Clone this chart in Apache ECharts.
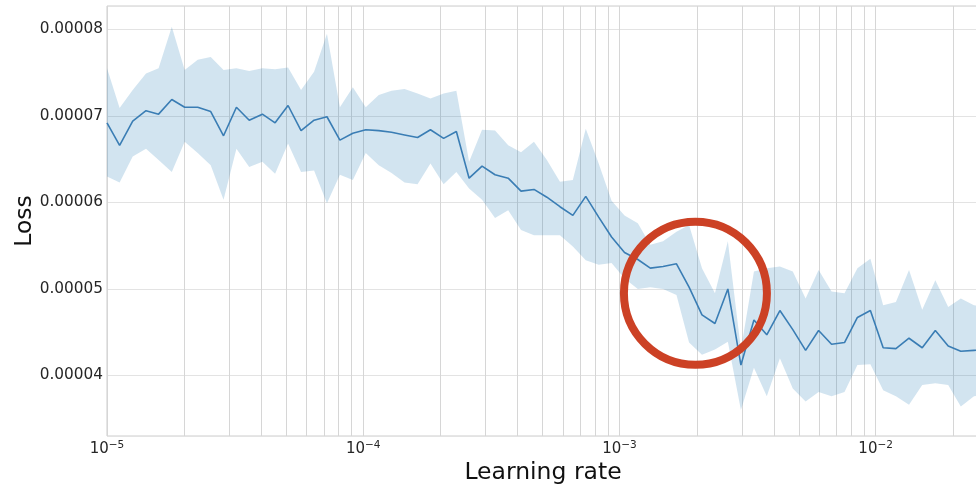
<!DOCTYPE html>
<html>
<head>
<meta charset="utf-8">
<script src="https://cdn.jsdelivr.net/npm/echarts@6/dist/echarts.min.js"></script>
<style>
html,body{margin:0;padding:0;background:#fff;}
#chart{width:976px;height:485px;}
</style>
</head>
<body>
<div id="chart"></div>
<script>
// Learning rates (geometric sweep), one per sample
var learningRates = [
  1.00e-5, 1.12e-5, 1.26e-5, 1.42e-5, 1.59e-5, 1.79e-5, 2.01e-5, 2.26e-5, 2.54e-5, 2.85e-5,
  3.20e-5, 3.59e-5, 4.04e-5, 4.53e-5, 5.09e-5, 5.72e-5, 6.43e-5, 7.22e-5, 8.11e-5, 9.11e-5,
  1.023e-4, 1.15e-4, 1.29e-4, 1.45e-4, 1.63e-4, 1.83e-4, 2.06e-4, 2.31e-4, 2.59e-4, 2.91e-4,
  3.27e-4, 3.68e-4, 4.13e-4, 4.64e-4, 5.21e-4, 5.86e-4, 6.58e-4, 7.39e-4, 8.30e-4, 9.32e-4,
  1.047e-3, 1.18e-3, 1.32e-3, 1.48e-3, 1.67e-3, 1.87e-3, 2.10e-3, 2.36e-3, 2.65e-3, 2.98e-3,
  3.35e-3, 3.76e-3, 4.23e-3, 4.75e-3, 5.33e-3, 5.99e-3, 6.73e-3, 7.56e-3, 8.49e-3, 9.54e-3,
  1.07e-2, 1.20e-2, 1.35e-2, 1.52e-2, 1.71e-2, 1.92e-2, 2.15e-2, 2.42e-2, 2.72e-2
];
// Mean loss
var lossMean = [
  6.92e-5, 6.66e-5, 6.94e-5, 7.06e-5, 7.02e-5, 7.19e-5, 7.10e-5, 7.10e-5, 7.05e-5, 6.77e-5,
  7.10e-5, 6.95e-5, 7.02e-5, 6.92e-5, 7.12e-5, 6.83e-5, 6.95e-5, 6.99e-5, 6.72e-5, 6.80e-5,
  6.84e-5, 6.83e-5, 6.81e-5, 6.78e-5, 6.75e-5, 6.84e-5, 6.74e-5, 6.82e-5, 6.28e-5, 6.42e-5,
  6.32e-5, 6.28e-5, 6.13e-5, 6.15e-5, 6.06e-5, 5.95e-5, 5.85e-5, 6.07e-5, 5.83e-5, 5.60e-5,
  5.42e-5, 5.34e-5, 5.24e-5, 5.26e-5, 5.29e-5, 5.02e-5, 4.70e-5, 4.60e-5, 5.00e-5, 4.12e-5,
  4.64e-5, 4.47e-5, 4.75e-5, 4.53e-5, 4.29e-5, 4.52e-5, 4.36e-5, 4.38e-5, 4.67e-5, 4.75e-5,
  4.32e-5, 4.31e-5, 4.43e-5, 4.32e-5, 4.52e-5, 4.34e-5, 4.28e-5, 4.29e-5, 4.30e-5
];
// Upper edge of the spread band
var lossUpper = [
  7.55e-5, 7.09e-5, 7.30e-5, 7.49e-5, 7.55e-5, 8.03e-5, 7.53e-5, 7.65e-5, 7.68e-5, 7.53e-5,
  7.55e-5, 7.52e-5, 7.55e-5, 7.54e-5, 7.56e-5, 7.30e-5, 7.51e-5, 7.95e-5, 7.10e-5, 7.33e-5,
  7.10e-5, 7.24e-5, 7.29e-5, 7.31e-5, 7.26e-5, 7.20e-5, 7.26e-5, 7.29e-5, 6.47e-5, 6.84e-5,
  6.83e-5, 6.66e-5, 6.58e-5, 6.70e-5, 6.49e-5, 6.24e-5, 6.26e-5, 6.85e-5, 6.45e-5, 6.02e-5,
  5.85e-5, 5.76e-5, 5.51e-5, 5.55e-5, 5.66e-5, 5.74e-5, 5.24e-5, 4.95e-5, 5.55e-5, 4.30e-5,
  5.20e-5, 5.24e-5, 5.26e-5, 5.20e-5, 4.89e-5, 5.22e-5, 4.97e-5, 4.95e-5, 5.24e-5, 5.35e-5,
  4.81e-5, 4.85e-5, 5.22e-5, 4.76e-5, 5.10e-5, 4.79e-5, 4.89e-5, 4.81e-5, 4.80e-5
];
// Lower edge of the spread band
var lossLower = [
  6.30e-5, 6.23e-5, 6.53e-5, 6.62e-5, 6.49e-5, 6.35e-5, 6.70e-5, 6.57e-5, 6.43e-5, 6.03e-5,
  6.62e-5, 6.41e-5, 6.47e-5, 6.33e-5, 6.68e-5, 6.35e-5, 6.37e-5, 5.99e-5, 6.32e-5, 6.26e-5,
  6.57e-5, 6.43e-5, 6.34e-5, 6.23e-5, 6.21e-5, 6.45e-5, 6.21e-5, 6.35e-5, 6.16e-5, 6.03e-5,
  5.82e-5, 5.91e-5, 5.68e-5, 5.62e-5, 5.62e-5, 5.62e-5, 5.49e-5, 5.33e-5, 5.28e-5, 5.30e-5,
  5.12e-5, 5.00e-5, 5.02e-5, 5.00e-5, 4.93e-5, 4.38e-5, 4.24e-5, 4.30e-5, 4.39e-5, 3.60e-5,
  4.09e-5, 3.76e-5, 4.20e-5, 3.85e-5, 3.70e-5, 3.81e-5, 3.76e-5, 3.81e-5, 4.12e-5, 4.13e-5,
  3.83e-5, 3.76e-5, 3.66e-5, 3.89e-5, 3.91e-5, 3.89e-5, 3.64e-5, 3.76e-5, 3.77e-5
];
// Minor gridline positions on the log axis
var minorGridLR = [
  2e-5, 3e-5, 4e-5, 5e-5, 6e-5, 7e-5, 8e-5, 9e-5,
  2e-4, 3e-4, 4e-4, 5e-4, 6e-4, 7e-4, 8e-4, 9e-4,
  2e-3, 3e-3, 4e-3, 5e-3, 6e-3, 7e-3, 8e-3, 9e-3,
  2e-2
];
// Highlight annotation (data coordinates)
var highlight = [[1.98e-3, 4.95e-5]];

var xMin = 1e-5, xMax = 0.02532;
var yMin = 3.30e-5, yMax = 8.27e-5;

var meanData = learningRates.map(function (x, i) { return [x, lossMean[i]]; });

var FONT = 'DejaVu Sans';
var GRID_COLOR = '#d6d6d6';
var chart = echarts.init(document.getElementById('chart'), null, { renderer: 'canvas' });

function renderBand(params, api) {
  if (params.dataIndex !== 0) return null;
  var pts = [];
  var i;
  for (i = 0; i < learningRates.length; i++) pts.push(api.coord([learningRates[i], lossUpper[i]]));
  for (i = learningRates.length - 1; i >= 0; i--) pts.push(api.coord([learningRates[i], lossLower[i]]));
  return {
    type: 'polygon',
    shape: { points: pts },
    style: { fill: 'rgba(31,119,180,0.2)', stroke: 'none' },
    silent: true
  };
}

function renderMinorGrid(params, api) {
  if (params.dataIndex !== 0) return null;
  var children = minorGridLR.map(function (v) {
    var p0 = api.coord([v, yMin]);
    var p1 = api.coord([v, yMax]);
    var x = Math.round(p0[0]) + 0.5;
    return {
      type: 'line',
      shape: { x1: x, y1: p0[1], x2: x, y2: p1[1] },
      style: { stroke: GRID_COLOR, lineWidth: 1 },
      silent: true
    };
  });
  return { type: 'group', children: children };
}

chart.setOption({
  animation: false,
  backgroundColor: '#ffffff',
  grid: {
    left: 107, right: -3, top: 6, bottom: 49,
    outerBoundsMode: 'none',
    containLabel: false,
    show: true, borderColor: '#cccccc', borderWidth: 1, backgroundColor: 'transparent'
  },
  xAxis: {
    type: 'log',
    logBase: 10,
    min: xMin, max: xMax,
    name: 'Learning rate',
    nameLocation: 'middle',
    nameGap: 25,
    nameMoveOverlap: false,
    nameTextStyle: { fontFamily: FONT, fontSize: 23.5, color: '#111' },
    axisLine: { show: false },
    axisTick: { show: false },
    axisLabel: {
      showMaxLabel: false,
      margin: 4,
      fontFamily: FONT, fontSize: 15, color: '#262626',
      formatter: function (v) {
        var e = Math.round(Math.log10(v));
        return '10{s|' + String(e).replace('-', '\u2212') + '}';
      },
      rich: { s: { fontFamily: FONT, fontSize: 10.5, color: '#262626', padding: [0, 0, 8, 0] } }
    },
    splitLine: { show: true, lineStyle: { color: GRID_COLOR, width: 1 } }
  },
  yAxis: {
    type: 'value',
    min: yMin, max: yMax,
    splitNumber: 5,
    name: 'Loss',
    nameLocation: 'middle',
    nameGap: 70,
    nameMoveOverlap: false,
    nameRotate: 90,
    nameTextStyle: { fontFamily: FONT, fontSize: 23.5, color: '#111' },
    axisLine: { show: false },
    axisTick: { show: false },
    axisLabel: {
      showMinLabel: false, showMaxLabel: false,
      margin: 4,
      fontFamily: FONT, fontSize: 15.3, color: '#262626',
      formatter: function (v) { return v.toFixed(5); }
    },
    splitLine: { show: true, lineStyle: { color: '#e3e3e3', width: 1 } }
  },
  series: [
    {
      name: 'minorGrid', type: 'custom', data: meanData, z: 1, silent: true, clip: true,
      renderItem: renderMinorGrid
    },
    {
      name: 'band', type: 'custom', data: meanData, z: 2, clip: true, silent: true,
      renderItem: renderBand
    },
    {
      name: 'mean', type: 'line', data: meanData, symbol: 'none', z: 3,
      lineStyle: { color: '#3a7db4', width: 1.6 }
    },
    {
      name: 'highlight', type: 'scatter', data: highlight, z: 5, clip: false, silent: true,
      symbol: 'circle', symbolSize: 143,
      itemStyle: { color: 'rgba(0,0,0,0)', borderColor: '#cc4125', borderWidth: 8, opacity: 1 }
    }
  ]
});
</script>
</body>
</html>
